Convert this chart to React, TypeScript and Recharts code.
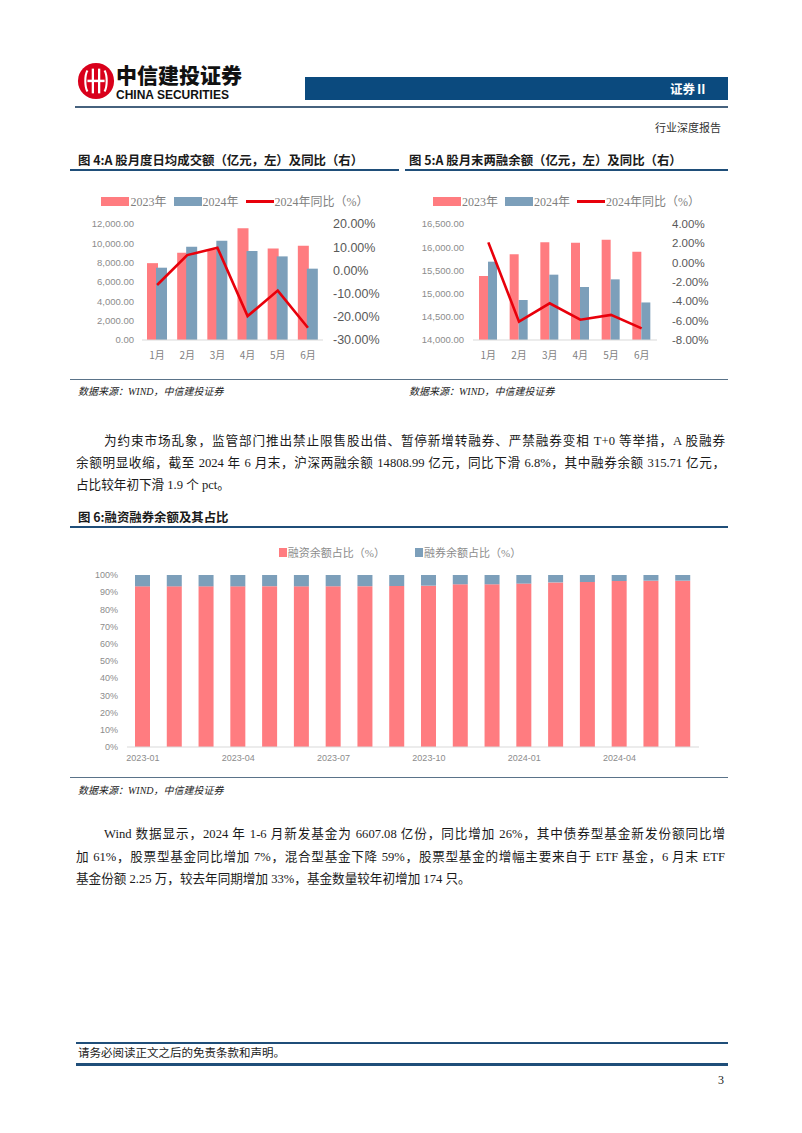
import React from 'react';
import { ComposedChart, BarChart, Bar, Line, XAxis, YAxis, Legend } from 'recharts';

// 图4 A股月度日均成交额（亿元）及同比
const months = ['1月', '2月', '3月', '4月', '5月', '6月'];
const turnover2023 = [7950, 9030, 9360, 11550, 9470, 9760];
const turnover2024 = [7480, 9650, 10280, 9200, 8650, 7380];
const turnoverYoy = [-6.3, 6.6, 9.8, -19.7, -8.7, -24.7];
const turnoverTicks = [0, 2000, 4000, 6000, 8000, 10000, 12000];
const turnoverYoyTicks = [-30, -20, -10, 0, 10, 20];

// 图5 A股月末两融余额（亿元）及同比
const margin2023 = [15379, 15846, 16105, 16095, 16162, 15904];
const margin2024 = [15688, 14862, 15408, 15142, 15307, 14809];
const marginYoy = [2.1, -6.1, -4.2, -5.9, -5.4, -6.8];
const marginTicks = [14000, 14500, 15000, 15500, 16000, 16500];
const marginYoyTicks = [-8, -6, -4, -2, 0, 2, 4];

// 图6 融资融券余额占比（%）
const periods = [
  '2023-01', '2023-02', '2023-03', '2023-04', '2023-05', '2023-06',
  '2023-07', '2023-08', '2023-09', '2023-10', '2023-11', '2023-12',
  '2024-01', '2024-02', '2024-03', '2024-04', '2024-05', '2024-06',
];
const financingShare = [93.4, 93.4, 93.4, 93.4, 93.5, 93.4, 93.4, 93.5, 93.6, 93.8, 94.6, 94.6, 95.0, 95.7, 95.9, 96.5, 96.7, 96.7];
const lendingShare = [6.6, 6.6, 6.6, 6.6, 6.5, 6.6, 6.6, 6.5, 6.4, 6.2, 5.4, 5.4, 5.0, 4.3, 4.1, 3.5, 3.3, 3.3];
const shareTicks = [0, 10, 20, 30, 40, 50, 60, 70, 80, 90, 100];

const RED = '#FF7C80';
const BLUE = '#7C9FBA';
const LINE_RED = '#E8000B';
const NAVY = '#1F4E79';
const SANS = '"Liberation Sans", Arial, "Noto Sans CJK SC", sans-serif';
const SERIF = '"Liberation Serif", "Noto Sans CJK SC", serif';
const CJK = '"Noto Sans CJK SC", sans-serif';

const turnoverData = months.map((m, i) => ({
  month: m,
  y2023: turnover2023[i],
  y2024: turnover2024[i],
  yoy: turnoverYoy[i],
}));
const marginData = months.map((m, i) => ({
  month: m,
  y2023: margin2023[i],
  y2024: margin2024[i],
  yoy: marginYoy[i],
}));
const shareData = periods.map((p, i) => ({
  period: p,
  financing: financingShare[i],
  lending: lendingShare[i],
}));

const fmtThousands = (v: number) =>
  v.toLocaleString('en-US', { minimumFractionDigits: 2, maximumFractionDigits: 2 });
const fmtPct2 = (v: number) => `${v.toFixed(2)}%`;

const YearLegend = () => (
  <div
    style={{
      display: 'flex',
      justifyContent: 'center',
      alignItems: 'center',
      fontFamily: SERIF,
      fontSize: 12,
      color: '#7f7f7f',
      whiteSpace: 'nowrap',
    }}
  >
    <span style={{ width: 28, height: 9, background: RED, marginRight: 1 }} />
    <span style={{ marginRight: 7 }}>2023年</span>
    <span style={{ width: 28, height: 9, background: BLUE, marginRight: 1 }} />
    <span style={{ marginRight: 7 }}>2024年</span>
    <span style={{ width: 28, height: 3, background: LINE_RED, marginRight: 1 }} />
    <span>2024年同比（%）</span>
  </div>
);

const ShareLegend = () => (
  <div
    style={{
      display: 'flex',
      justifyContent: 'center',
      alignItems: 'center',
      fontFamily: SERIF,
      fontSize: 11,
      color: '#8c8c8c',
      whiteSpace: 'nowrap',
    }}
  >
    <span style={{ width: 8, height: 9, background: RED, marginRight: 1 }} />
    <span style={{ marginRight: 30 }}>融资余额占比（%）</span>
    <span style={{ width: 8, height: 9, background: BLUE, marginRight: 1 }} />
    <span>融券余额占比（%）</span>
  </div>
);

const abs = (left: number, top: number, extra: React.CSSProperties = {}): React.CSSProperties => ({
  position: 'absolute',
  left,
  top,
  ...extra,
});

const Rule = ({ x, y, w, h, color }: { x: number; y: number; w: number; h: number; color: string }) => (
  <div style={abs(x, y, { width: w, height: h, background: color })} />
);

const Text = ({
  x,
  y,
  size,
  children,
  style,
}: {
  x: number;
  y: number;
  size: number;
  children: React.ReactNode;
  style?: React.CSSProperties;
}) => (
  <div style={abs(x, y - 8, { height: 16, lineHeight: '16px', fontSize: size, whiteSpace: 'nowrap', ...style })}>
    {children}
  </div>
);

const JLine = ({ x, y, w, children, last }: { x: number; y: number; w: number; children: React.ReactNode; last?: boolean }) => (
  <div
    style={abs(x, y - 10, {
      width: w,
      height: 20,
      lineHeight: '20px',
      fontSize: 12.6,
      fontFamily: SERIF,
      color: '#1a1a1a',
      whiteSpace: 'nowrap',
      textAlign: 'justify',
      textAlignLast: last ? 'left' : 'justify',
    })}
  >
    {children}
  </div>
);

const Logo = () => (
  <svg width={38} height={38} style={abs(77, 62)} viewBox="0 0 40 40">
    <circle cx={20} cy={20} r={19} fill="#D9001B" />
    <path d="M11 9 C8 14 8 26 11 31" stroke="#fff" strokeWidth={2.2} fill="none" />
    <path d="M29 9 C32 14 32 26 29 31" stroke="#fff" strokeWidth={2.2} fill="none" />
    <rect x={15.5} y={7} width={2.4} height={26} fill="#fff" />
    <rect x={22.1} y={7} width={2.4} height={26} fill="#fff" />
    <rect x={11} y={18.6} width={18} height={2.6} fill="#fff" />
  </svg>
);

const leftTick = { fill: '#8c8c8c', fontSize: 9.5, fontFamily: SANS };
const catTick = { fill: '#7f7f7f', fontSize: 10, fontFamily: CJK };

export default function App() {
  return (
    <div style={abs(0, 0, { width: 802, height: 1133, background: '#fff', overflow: 'hidden', color: '#1a1a1a' })}>
      {/* header */}
      <Logo />
      <Text x={116} y={75} size={21} style={{ fontFamily: CJK, fontWeight: 900, color: '#111', height: 22, lineHeight: '22px', top: 63 }}>
        中信建投证券
      </Text>
      <Text x={116} y={95} size={12} style={{ fontFamily: SANS, fontWeight: 700, color: '#111', height: 12, lineHeight: '12px', top: 89 }}>
        CHINA SECURITIES
      </Text>
      <div style={abs(305, 77, { width: 423, height: 23, background: '#0B4A7E' })} />
      <Text x={670} y={89} size={12.5} style={{ fontFamily: CJK, fontWeight: 700, color: '#fff' }}>
        证券Ⅱ
      </Text>
      <Rule x={75} y={106} w={653} h={2} color="#46627E" />
      <Text x={655} y={127} size={11} style={{ fontFamily: CJK, color: '#333' }}>
        行业深度报告
      </Text>

      {/* figure titles 4 & 5 */}
      <Text x={78} y={160} size={12.4} style={{ fontFamily: CJK, fontWeight: 700 }}>
        图 4:A 股月度日均成交额（亿元，左）及同比（右）
      </Text>
      <Rule x={70} y={169} w={329} h={2} color={NAVY} />
      <Text x={409} y={160} size={12.4} style={{ fontFamily: CJK, fontWeight: 700 }}>
        图 5:A 股月末两融余额（亿元，左）及同比（右）
      </Text>
      <Rule x={405} y={169} w={323} h={2} color={NAVY} />

      {/* chart 4 */}
      <div style={abs(70, 180)}>
        <ComposedChart width={330} height={190} data={turnoverData} margin={{ top: 44, right: 0, bottom: 0, left: 0 }} barGap={-2}>
          <Legend
            verticalAlign="middle"
            align="center"
            layout="horizontal"
            wrapperStyle={{ top: 12, left: 0, width: 330 }}
            content={() => <YearLegend />}
          />
          <XAxis dataKey="month" tick={catTick} tickLine={false} axisLine={{ stroke: '#d9d9d9' }} tickMargin={6} height={30} />
          <YAxis
            yAxisId="left"
            width={72}
            domain={[0, 12000]}
            ticks={turnoverTicks}
            tickFormatter={fmtThousands}
            tick={leftTick}
            axisLine={false}
            tickLine={false}
            interval={0}
          />
          <YAxis
            yAxisId="right"
            orientation="right"
            width={77}
            domain={[-30, 20]}
            ticks={turnoverYoyTicks}
            tickFormatter={fmtPct2}
            tick={{ fill: '#595959', fontSize: 12.5, fontFamily: SANS }}
            axisLine={false}
            tickLine={false}
            tickMargin={4}
            interval={0}
          />
          <Bar yAxisId="left" dataKey="y2023" fill={RED} barSize={11} isAnimationActive={false} />
          <Bar yAxisId="left" dataKey="y2024" fill={BLUE} barSize={11} isAnimationActive={false} />
          <Line yAxisId="right" dataKey="yoy" stroke={LINE_RED} strokeWidth={2.6} dot={false} type="linear" isAnimationActive={false} />
        </ComposedChart>
      </div>

      {/* chart 5 */}
      <div style={abs(405, 180)}>
        <ComposedChart width={323} height={190} data={marginData} margin={{ top: 44, right: 0, bottom: 0, left: 0 }} barGap={0}>
          <Legend
            verticalAlign="middle"
            align="center"
            layout="horizontal"
            wrapperStyle={{ top: 12, left: 0, width: 323 }}
            content={() => <YearLegend />}
          />
          <XAxis dataKey="month" tick={catTick} tickLine={false} axisLine={{ stroke: '#d9d9d9' }} tickMargin={6} height={30} />
          <YAxis
            yAxisId="left"
            width={68}
            domain={[14000, 16500]}
            ticks={marginTicks}
            tickFormatter={fmtThousands}
            tick={leftTick}
            axisLine={false}
            tickLine={false}
            tickMargin={3}
            interval={0}
          />
          <YAxis
            yAxisId="right"
            orientation="right"
            width={71}
            domain={[-8, 4]}
            ticks={marginYoyTicks}
            tickFormatter={fmtPct2}
            tick={{ fill: '#595959', fontSize: 11.5, fontFamily: SANS }}
            axisLine={false}
            tickLine={false}
            tickMargin={9}
            interval={0}
          />
          <Bar yAxisId="left" dataKey="y2023" fill={RED} barSize={9} isAnimationActive={false} />
          <Bar yAxisId="left" dataKey="y2024" fill={BLUE} barSize={9} isAnimationActive={false} />
          <Line yAxisId="right" dataKey="yoy" stroke={LINE_RED} strokeWidth={2.6} dot={false} type="linear" isAnimationActive={false} />
        </ComposedChart>
      </div>

      <Rule x={70} y={379} w={658} h={1} color="#5a7389" />
      <Text x={78} y={392} size={10} style={{ fontFamily: SERIF, fontStyle: 'italic', color: '#222' }}>
        数据来源：WIND，中信建投证券
      </Text>
      <Text x={409} y={392} size={10} style={{ fontFamily: SERIF, fontStyle: 'italic', color: '#222' }}>
        数据来源：WIND，中信建投证券
      </Text>

      {/* paragraph 1 */}
      <JLine x={104} y={441} w={621}>
        为约束市场乱象，监管部门推出禁止限售股出借、暂停新增转融券、严禁融券变相 T+0 等举措，A 股融券
      </JLine>
      <JLine x={76} y={463} w={649}>
        余额明显收缩，截至 2024 年 6 月末，沪深两融余额 14808.99 亿元，同比下滑 6.8%，其中融券余额 315.71 亿元，
      </JLine>
      <JLine x={76} y={485} w={649} last>
        占比较年初下滑 1.9 个 pct。
      </JLine>

      {/* figure 6 */}
      <Text x={78} y={517} size={12.4} style={{ fontFamily: CJK, fontWeight: 700 }}>
        图 6:融资融券余额及其占比
      </Text>
      <Rule x={70} y={526} w={658} h={2} color={NAVY} />
      <div style={abs(70, 535)}>
        <BarChart width={660} height={237} data={shareData} margin={{ top: 40, right: 31, bottom: 0, left: 0 }}>
          <Legend
            verticalAlign="middle"
            align="center"
            layout="horizontal"
            wrapperStyle={{ top: 9, left: 0, width: 660 }}
            content={() => <ShareLegend />}
          />
          <XAxis
            dataKey="period"
            interval={2}
            tick={{ fill: '#8c8c8c', fontSize: 9, fontFamily: SANS }}
            tickLine={false}
            axisLine={{ stroke: '#d9d9d9' }}
            tickMargin={2}
            height={25}
          />
          <YAxis
            width={57}
            domain={[0, 100]}
            ticks={shareTicks}
            tickFormatter={(v: number) => `${v}%`}
            tick={{ fill: '#8c8c8c', fontSize: 9, fontFamily: SANS }}
            axisLine={false}
            tickLine={false}
            tickMargin={3}
            interval={0}
          />
          <Bar dataKey="financing" stackId="s" fill={RED} barSize={15} isAnimationActive={false} />
          <Bar dataKey="lending" stackId="s" fill={BLUE} barSize={15} isAnimationActive={false} />
        </BarChart>
      </div>
      <Rule x={70} y={777} w={658} h={1} color="#5a7389" />
      <Text x={78} y={791} size={10} style={{ fontFamily: SERIF, fontStyle: 'italic', color: '#222' }}>
        数据来源：WIND，中信建投证券
      </Text>

      {/* paragraph 2 */}
      <JLine x={104} y={834} w={621}>
        Wind 数据显示，2024 年 1-6 月新发基金为 6607.08 亿份，同比增加 26%，其中债券型基金新发份额同比增
      </JLine>
      <JLine x={76} y={857} w={649}>
        加 61%，股票型基金同比增加 7%，混合型基金下降 59%，股票型基金的增幅主要来自于 ETF 基金，6 月末 ETF
      </JLine>
      <JLine x={76} y={879} w={649} last>
        基金份额 2.25 万，较去年同期增加 33%，基金数量较年初增加 174 只。
      </JLine>

      {/* footer */}
      <Rule x={76} y={1042} w={652} h={1.5} color={NAVY} />
      <Text x={78} y={1053} size={11.5} style={{ fontFamily: SERIF }}>
        请务必阅读正文之后的免责条款和声明。
      </Text>
      <Rule x={76} y={1063} w={652} h={3} color={NAVY} />
      <Text x={718} y={1080} size={12} style={{ fontFamily: SERIF }}>
        3
      </Text>
    </div>
  );
}
